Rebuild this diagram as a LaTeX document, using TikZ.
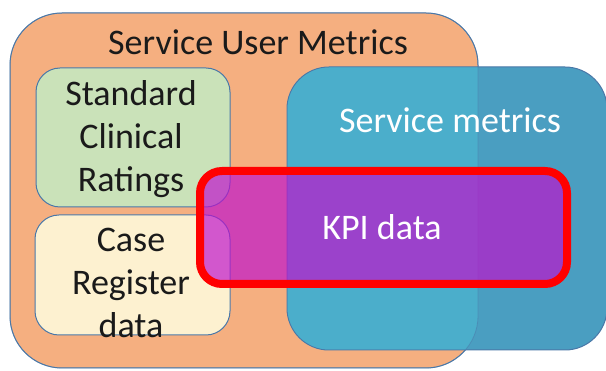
\documentclass[tikz,border=0pt]{standalone}
\usepackage{fontspec}
\setmainfont{Carlito}
\definecolor{orangefill}{HTML}{F5AF80}
\definecolor{edgeblue}{HTML}{4A78A8}
\definecolor{greenfill}{HTML}{CAE2B9}
\definecolor{creamfill}{HTML}{FDF1D0}
\definecolor{bluefill}{HTML}{4A9EC1}
\definecolor{blueover}{HTML}{4BAECB}
\definecolor{purplefill}{HTML}{BF12CC}
\definecolor{redline}{HTML}{FF0000}
\definecolor{textdark}{HTML}{1A1A1A}
\tikzset{
  bigtext/.style={font=\fontsize{36}{43}\selectfont, inner sep=0pt, align=center},
  darktext/.style={bigtext, text=textdark},
  lighttext/.style={bigtext, text=white},
}
\begin{document}
\begin{tikzpicture}[x=1pt,y=-1pt]
\useasboundingbox (0,0) rectangle (606,371);
\begin{scope}
\clip (0,0) rectangle (606,371);
% orange outer
\draw[fill=orangefill, draw=edgeblue, line width=1pt, rounded corners=52pt] (10,13) rectangle (478,368);
% green and cream
\draw[fill=greenfill, draw=edgeblue, line width=1pt, rounded corners=24pt] (36,68) rectangle (230,207);
\draw[fill=creamfill, draw=edgeblue, line width=1pt, rounded corners=24pt] (35,215) rectangle (230,335);
% blue
\draw[fill=bluefill, draw=edgeblue, line width=1pt, rounded corners=42pt] (287,67) rectangle (607,350);
\begin{scope}
\clip[rounded corners=52pt] (10,13) rectangle (478,368);
\fill[blueover, rounded corners=42pt] (287.5,67.5) rectangle (607,349.5);
\end{scope}
\draw[draw=edgeblue, opacity=0.5, line width=0.8pt, rounded corners=52pt] (10,13) rectangle (478,368);
% KPI box
\fill[purplefill, opacity=0.69, rounded corners=22pt] (200,171) rectangle (567,284);
\draw[redline, line width=8pt, rounded corners=22pt] (200,171) rectangle (567,284);
\end{scope}
% texts
\node[darktext, anchor=base] (sum) at (258,55) {Service User Metrics};
\node[lighttext, anchor=base] (sm) at (450,133) {Service metrics};
\node[lighttext, anchor=base] (kpi) at (382,240) {KPI data};
\node[darktext, anchor=center] (scr) at (131,139) {Standard\\Clinical\\Ratings};
\node[darktext, anchor=center] (crd) at (131,283) {Case\\Register\\data};
\end{tikzpicture}
\end{document}
